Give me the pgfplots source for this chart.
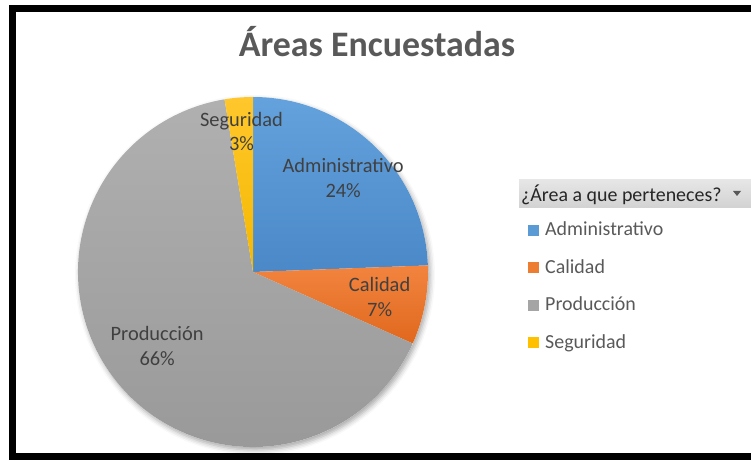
\documentclass[border=0pt]{standalone}
\usepackage{pgfplots}
\pgfplotsset{compat=1.18}
\usepackage{fontspec}
\setmainfont{Carlito}
\usetikzlibrary{shadows.blur}
\definecolor{adminTop}{HTML}{63A2DC}
\definecolor{adminBot}{HTML}{4A88C8}
\definecolor{calTop}{HTML}{F2843F}
\definecolor{calBot}{HTML}{E0681D}
\definecolor{prodTop}{HTML}{B0B0B0}
\definecolor{prodBot}{HTML}{989898}
\definecolor{segTop}{HTML}{FFC72C}
\definecolor{segBot}{HTML}{F4B800}
\definecolor{cAdmin}{HTML}{5B9BD5}
\definecolor{cCal}{HTML}{ED7D31}
\definecolor{cProd}{HTML}{A5A5A5}
\definecolor{cSeg}{HTML}{FFC000}
\definecolor{titlegray}{HTML}{595959}
\definecolor{labelgray}{HTML}{404040}
\definecolor{legendgray}{HTML}{595959}
\definecolor{headerTop}{HTML}{E6E6E6}
\definecolor{headerBot}{HTML}{D2D2D2}
\begin{document}
\begin{tikzpicture}
% data: share of each area (percent)
\def\vAdmin{24.4}
\def\vCal{7.3}
\def\vProd{65.7}
\def\vSeg{2.6}
\pgfmathsetmacro\aA{90}
\pgfmathsetmacro\aB{\aA-3.6*\vAdmin}
\pgfmathsetmacro\aC{\aB-3.6*\vCal}
\pgfmathsetmacro\aD{\aC-3.6*\vProd}
\pgfmathsetmacro\aE{\aD-3.6*\vSeg}
\pgfmathsetmacro\mA{(\aA+\aB)/2}
\pgfmathsetmacro\mB{(\aB+\aC)/2}
\pgfmathsetmacro\mC{(\aC+\aD)/2}
\pgfmathsetmacro\mD{(\aD+\aE)/2}
\begin{axis}[
  scale only axis, width=751bp, height=461bp,
  xmin=0, xmax=751, ymin=0, ymax=461,
  hide axis, clip=false]
% shadow
\fill[white, blur shadow={shadow xshift=2bp, shadow yshift=-3bp, shadow blur radius=5bp, shadow opacity=35}] (axis cs:253,189) circle[radius=175bp];
% wedges
\shade[top color=adminTop, bottom color=adminBot] (axis cs:253,189) -- ([shift={(\aA:175bp)}]axis cs:253,189) arc[start angle=\aA, end angle=\aB, radius=175bp] -- cycle;
\shade[top color=calTop, bottom color=calBot] (axis cs:253,189) -- ([shift={(\aB:175bp)}]axis cs:253,189) arc[start angle=\aB, end angle=\aC, radius=175bp] -- cycle;
\shade[top color=prodTop, bottom color=prodBot] (axis cs:253,189) -- ([shift={(\aC:175bp)}]axis cs:253,189) arc[start angle=\aC, end angle=\aD, radius=175bp] -- cycle;
\shade[top color=segTop, bottom color=segBot] (axis cs:253,189) -- ([shift={(\aD:175bp)}]axis cs:253,189) arc[start angle=\aD, end angle=\aE, radius=175bp] -- cycle;
% data labels
\begin{scope}[every node/.style={align=center, text=labelgray, font=\fontsize{20.5}{25}\selectfont}]
\node at ([shift={(\mA:130bp)}]axis cs:253,189) {Administrativo\\24\%};
\node at ([shift={(\mB:129bp)}]axis cs:253,189) {Calidad\\7\%};
\node at ([shift={(\mC:121bp)}]axis cs:253,189) {Producción\\66\%};
\node at ([shift={(\mD:141bp)}]axis cs:253,189) {Seguridad\\3\%};
\end{scope}
% title
\node[anchor=base, text=titlegray, font=\fontsize{36}{42}\selectfont\bfseries] at (axis cs:377,404) {Áreas Encuestadas};
% legend header
\shade[top color=headerTop, bottom color=headerBot] (axis cs:519,253) rectangle (axis cs:760,281);
\node[anchor=base west, inner sep=0pt, text=black!85, font=\fontsize{20}{23}\selectfont] at (axis cs:521,259) {¿Área a que perteneces?};
\fill[titlegray] (axis cs:733,270) -- (axis cs:741,270) -- (axis cs:737,265) -- cycle;
% legend entries
\fill[cAdmin] (axis cs:528,225) rectangle (axis cs:539,236);
\node[anchor=base west, inner sep=0pt, text=legendgray, font=\fontsize{20}{23}\selectfont] at (axis cs:545,225) {Administrativo};
\fill[cCal] (axis cs:528,187.5) rectangle (axis cs:539,198.5);
\node[anchor=base west, inner sep=0pt, text=legendgray, font=\fontsize{20}{23}\selectfont] at (axis cs:545,187.5) {Calidad};
\fill[cProd] (axis cs:528,150) rectangle (axis cs:539,161);
\node[anchor=base west, inner sep=0pt, text=legendgray, font=\fontsize{20}{23}\selectfont] at (axis cs:545,150) {Producción};
\fill[cSeg] (axis cs:528,112.5) rectangle (axis cs:539,123.5);
\node[anchor=base west, inner sep=0pt, text=legendgray, font=\fontsize{20}{23}\selectfont] at (axis cs:545,112.5) {Seguridad};
% frame
\draw[black, line width=7bp] (axis cs:760,452.5) -- (axis cs:12.5,452.5) -- (axis cs:12.5,4.5) -- (axis cs:760,4.5);
\end{axis}
\pgfresetboundingbox
\useasboundingbox (0,0) rectangle (751bp,461bp);
\end{tikzpicture}
\end{document}
